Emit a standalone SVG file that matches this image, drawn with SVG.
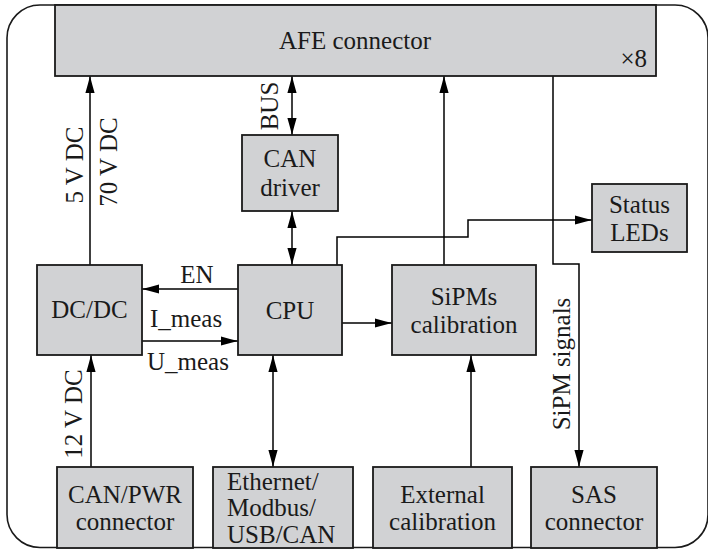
<svg xmlns="http://www.w3.org/2000/svg" width="708" height="549" viewBox="0 0 708 549" font-family="'Liberation Serif', 'Times New Roman', 'DejaVu Serif', serif">
  <style>
    .frame { fill: none; stroke: #1a1a1a; stroke-width: 1.6; }
    .box { fill: #d1d2d4; stroke: #1a1a1a; stroke-width: 1.8; }
    .wire { fill: none; stroke: #000; stroke-width: 1.5; }
    text { font-family: 'Liberation Serif', 'Times New Roman', 'DejaVu Serif', serif; font-size: 25px; fill: #1a1a1a; }
    .c { text-anchor: middle; }
  </style>
  <defs>
    <marker id="tip" markerUnits="userSpaceOnUse" viewBox="-18 -6 20 12" refX="0" refY="0" markerWidth="20" markerHeight="12" orient="auto-start-reverse">
      <path d="M0,0 Q-8,-2 -17,-4.6 L-17,4.6 Q-8,2 0,0 Z" fill="#000"/>
    </marker>
  </defs>

  <!-- board outline -->
  <rect class="frame" x="7" y="5" width="701" height="542.5" rx="33" ry="33"/>

  <!-- connectors -->
  <g id="connectors">
    <path class="wire" d="M90,265 V76" marker-end="url(#tip)"/>
    <path class="wire" d="M91,467 V355" marker-end="url(#tip)"/>
    <path class="wire" d="M292,135 V76" marker-start="url(#tip)" marker-end="url(#tip)"/>
    <path class="wire" d="M292,211 V265" marker-start="url(#tip)" marker-end="url(#tip)"/>
    <path class="wire" d="M273,355 V467" marker-start="url(#tip)" marker-end="url(#tip)"/>
    <path class="wire" d="M238,289 H142" marker-end="url(#tip)"/>
    <path class="wire" d="M142,341 H238" marker-end="url(#tip)"/>
    <path class="wire" d="M342,323 H392" marker-end="url(#tip)"/>
    <path class="wire" d="M337,265 V237 H468 V220 H592" marker-end="url(#tip)"/>
    <path class="wire" d="M444,265 V76" marker-end="url(#tip)"/>
    <path class="wire" d="M471,467 V355" marker-end="url(#tip)"/>
    <path class="wire" d="M553,76 V264 H579 V467" marker-end="url(#tip)"/>

    <!-- connector labels -->
    <text class="c" transform="translate(83,165) rotate(-90)">5 V DC</text>
    <text class="c" transform="translate(117,162) rotate(-90)">70 V DC</text>
    <text class="c" transform="translate(278,106) rotate(-90)">BUS</text>
    <text class="c" transform="translate(82,414) rotate(-90)">12 V DC</text>
    <text class="c" transform="translate(570,364) rotate(-90)">SiPM signals</text>
    <text class="c" x="197" y="283">EN</text>
    <text x="150" y="327">I_meas</text>
    <text x="147" y="370">U_meas</text>
  </g>

  <g id="afe">
    <rect class="box" x="55" y="5" width="601" height="71"/>
    <text class="c" x="355" y="49">AFE connector</text>
    <text x="647" y="67" text-anchor="end">×8</text>
  </g>

  <g id="can-driver">
    <rect class="box" x="242" y="135" width="96" height="76"/>
    <text class="c" x="290" y="167">CAN</text>
    <text class="c" x="290" y="196">driver</text>
  </g>

  <g id="dcdc">
    <rect class="box" x="37" y="265" width="105" height="90"/>
    <text class="c" x="89.5" y="318">DC/DC</text>
  </g>

  <g id="cpu">
    <rect class="box" x="238" y="265" width="104" height="90"/>
    <text class="c" x="290" y="319">CPU</text>
  </g>

  <g id="sipms-calibration">
    <rect class="box" x="392" y="265" width="144" height="90"/>
    <text class="c" x="464" y="305">SiPMs</text>
    <text class="c" x="464" y="333">calibration</text>
  </g>

  <g id="status-leds">
    <rect class="box" x="592" y="184" width="95" height="68"/>
    <text class="c" x="639.5" y="213">Status</text>
    <text class="c" x="639.5" y="241">LEDs</text>
  </g>

  <g id="can-pwr">
    <rect class="box" x="57" y="467" width="136" height="81"/>
    <text class="c" x="125" y="503">CAN/PWR</text>
    <text class="c" x="125" y="530">connector</text>
  </g>

  <g id="ethernet">
    <rect class="box" x="213" y="467" width="140" height="81"/>
    <text x="227" y="490">Ethernet/</text>
    <text x="227" y="516">Modbus/</text>
    <text x="227" y="543">USB/CAN</text>
  </g>

  <g id="external-calibration">
    <rect class="box" x="373" y="467" width="139" height="81"/>
    <text class="c" x="442.5" y="503">External</text>
    <text class="c" x="442.5" y="530">calibration</text>
  </g>

  <g id="sas">
    <rect class="box" x="531" y="467" width="126" height="81"/>
    <text class="c" x="594" y="503">SAS</text>
    <text class="c" x="594" y="530">connector</text>
  </g>
</svg>
